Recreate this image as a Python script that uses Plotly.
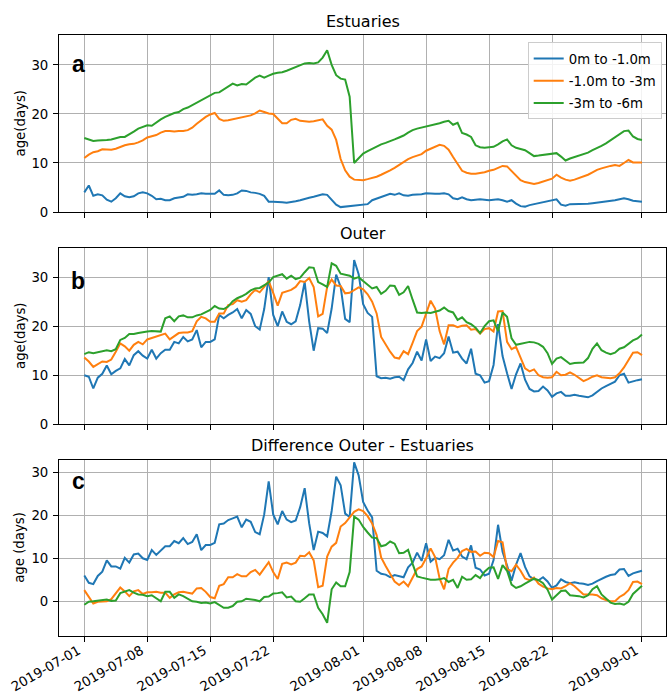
import numpy as np
import pandas as pd
import plotly.graph_objects as go

# Half-day time axis, 2019-07-01 .. 2019-09-01
times = pd.date_range("2019-07-01", "2019-09-01", freq="12h")

layer_names = ["0m to -1.0m", "-1.0m to -3m", "-3m to -6m"]
layer_colors = ["#1f77b4", "#ff7f0e", "#2ca02c"]

tick_dates = ["2019-07-01", "2019-07-08", "2019-07-15", "2019-07-22",
              "2019-08-01", "2019-08-08", "2019-08-15", "2019-08-22", "2019-09-01"]

# Water age (days) in the estuaries
est_0_1 = [4.0, 5.4, 3.3, 3.6, 3.4, 2.5, 2.1, 2.8, 3.8, 3.2,
           3.0, 3.2, 3.8, 4.0, 3.8, 3.3, 2.6, 2.7, 2.4, 2.4,
           2.8, 3.0, 3.1, 3.6, 3.5, 3.6, 3.8, 3.7, 3.7, 3.7,
           4.4, 3.5, 3.4, 3.5, 3.8, 4.4, 4.3, 4.0, 3.9, 3.7,
           3.3, 2.1, 2.1, 2.1, 2.0, 1.9, 2.0, 2.2, 2.4, 2.7,
           2.9, 3.1, 3.4, 3.6, 3.5, 2.6, 1.5, 1.0, 1.1, 1.2,
           1.2, 1.3, 1.4, 1.6, 2.4, 2.7, 3.0, 3.3, 3.7, 3.5,
           3.8, 3.4, 3.3, 3.5, 3.5, 3.6, 3.8, 3.7, 3.7, 3.7,
           3.8, 3.6, 2.8, 2.6, 3.0, 2.6, 2.4, 2.5, 2.6, 2.5,
           2.4, 2.5, 2.6, 2.4, 2.1, 2.4, 1.7, 1.2, 1.1, 1.4,
           1.6, 1.9, 2.1, 2.3, 2.5, 2.6, 1.5, 1.3, 1.6, 1.6,
           1.6, 1.6, 1.7, 1.8, 1.9, 2.0, 2.1, 2.2, 2.4, 2.6,
           2.8, 2.6, 2.3, 2.2, 2.1]
est_1_3 = [11.0, 11.7, 12.2, 12.4, 12.8, 12.7, 12.7, 12.9, 13.3, 13.6,
           13.8, 13.9, 14.2, 14.6, 15.2, 15.5, 15.7, 16.2, 16.5, 16.5,
           16.4, 16.5, 16.5, 16.7, 17.2, 18.0, 18.8, 19.4, 19.9, 20.2,
           19.0, 18.6, 18.7, 18.9, 19.0, 19.2, 19.5, 19.7, 20.1, 20.7,
           20.4, 20.1, 20.0, 19.0, 18.1, 18.1, 18.8, 19.0, 18.6, 18.5,
           18.4, 18.5, 18.7, 18.9, 17.6, 16.8, 14.7, 10.8, 8.5, 7.2,
           6.6, 6.5, 6.5, 6.7, 6.9, 7.2, 7.6, 8.0, 8.5, 9.0,
           9.6, 10.3, 10.8, 11.2, 11.5, 11.8, 12.5, 12.9, 13.3, 13.7,
           13.5, 12.7, 11.2, 9.7, 8.4, 8.0, 7.8, 7.8, 7.9, 8.1,
           8.4, 8.6, 9.0, 9.4, 9.3, 8.3, 7.3, 6.5, 6.1, 5.9,
           5.7, 5.9, 6.2, 6.5, 6.8, 7.6, 7.0, 6.6, 6.4, 6.6,
           6.9, 7.2, 7.6, 8.1, 8.6, 8.9, 9.2, 9.4, 9.6, 9.4,
           10.0, 10.6, 10.1, 10.1, 10.1]
est_3_6 = [15.1, 14.8, 14.5, 14.6, 14.6, 14.7, 14.8, 15.1, 15.3, 15.3,
           15.8, 16.4, 17.0, 17.3, 17.7, 17.6, 18.3, 18.9, 19.4, 19.8,
           20.2, 20.4, 21.0, 21.3, 21.8, 22.3, 22.8, 23.2, 23.8, 24.3,
           24.4, 25.0, 25.5, 26.2, 25.8, 26.1, 26.0, 26.8, 27.4, 27.8,
           27.4, 27.8, 28.2, 28.4, 28.5, 28.8, 29.2, 29.6, 30.0, 30.3,
           30.4, 30.3, 30.5, 31.5, 33.0, 30.0, 27.9, 27.2, 27.0, 23.5,
           10.0, 11.0, 11.9, 12.4, 12.9, 13.3, 13.8, 14.1, 14.4, 14.8,
           15.2, 15.6, 16.2, 16.7, 17.0, 17.2, 17.5, 17.7, 17.9, 18.1,
           18.4, 18.6, 17.8, 18.2, 16.1, 15.8, 15.3, 13.6, 13.2, 13.1,
           13.2, 13.3, 13.8, 14.4, 14.8, 13.6, 13.1, 12.9, 12.6, 12.0,
           11.4, 11.5, 11.6, 11.8, 11.9, 12.0, 11.3, 10.5, 10.9, 11.2,
           11.4, 11.7, 12.1, 12.6, 13.0, 13.5, 14.0, 14.6, 15.2, 15.9,
           16.5, 16.6, 15.4, 14.9, 14.7]

# Water age (days) in the outer area
out_0_1 = [10.0, 9.7, 7.3, 9.5, 10.3, 12.0, 10.2, 10.9, 11.4, 13.3,
           12.0, 14.1, 14.9, 14.0, 13.4, 15.2, 13.4, 14.5, 15.2, 15.2,
           16.8, 16.5, 17.8, 16.9, 17.3, 19.2, 15.7, 16.8, 16.8, 17.3,
           22.3, 21.6, 22.3, 22.8, 23.5, 21.6, 23.3, 22.5, 20.0, 19.3,
           23.5, 30.0, 22.3, 20.0, 23.0, 20.9, 20.4, 21.0, 24.3, 29.0,
           21.0, 15.0, 19.6, 19.5, 18.6, 23.6, 30.5, 28.0, 21.5, 20.8,
           33.5, 30.6, 24.5, 22.7, 21.9, 9.8, 9.4, 9.5, 9.3, 9.6,
           9.7, 9.0, 11.2, 12.5, 14.8, 13.0, 17.3, 12.9, 13.8, 13.5,
           14.5, 17.9, 14.6, 14.8, 13.4, 12.4, 15.4, 10.3, 10.0, 8.5,
           8.8, 12.1, 20.4, 13.9, 10.4, 7.2, 10.2, 12.4, 9.1, 7.2,
           6.7, 6.8, 7.7, 6.9, 5.6, 6.3, 6.6, 5.8, 5.8, 6.0,
           5.8, 5.7, 5.5, 5.9, 6.6, 7.3, 7.8, 8.3, 8.7, 10.0,
           10.3, 8.5, 8.8, 9.0, 9.2]
out_1_3 = [13.6, 12.8, 11.7, 12.3, 12.8, 12.7, 13.2, 14.8, 16.5, 15.9,
           15.0, 16.2, 16.8, 16.3, 17.3, 17.6, 17.9, 18.2, 18.5, 17.3,
           18.0, 18.6, 18.7, 18.7, 19.0, 21.0, 21.9, 21.6, 20.9, 20.9,
           22.6, 22.6, 24.3, 24.5, 25.3, 25.0, 25.3, 26.5, 27.4, 26.9,
           28.0, 29.2, 26.8, 24.2, 26.8, 27.1, 27.4, 28.0, 29.2, 29.0,
           29.8, 28.0, 22.0, 22.5, 28.0, 29.5, 28.3, 28.2, 26.7, 26.8,
           27.4, 27.9, 27.5, 26.5, 25.0, 22.6, 17.8, 16.2, 14.8, 13.6,
           13.4, 14.9, 14.3, 16.6, 19.0, 19.9, 22.5, 25.2, 23.6, 19.0,
           16.3, 20.2, 20.2, 19.8, 20.1, 20.2, 19.3, 19.4, 18.5, 19.4,
           19.6, 18.9, 23.0, 23.1, 16.8, 15.3, 15.8, 13.6, 11.4, 10.8,
           11.2, 10.0, 9.6, 9.5, 9.6, 10.7, 10.0, 10.1, 10.6, 10.1,
           9.5, 8.8, 9.2, 9.7, 10.0, 9.6, 9.5, 9.4, 9.6, 10.4,
           11.6, 13.2, 14.6, 14.7, 14.1]
out_3_6 = [14.3, 14.7, 14.5, 14.7, 14.9, 15.1, 14.9, 15.3, 17.2, 17.6,
           18.4, 18.4, 18.6, 18.8, 18.9, 19.0, 19.0, 18.9, 21.6, 22.0,
           21.0, 22.0, 22.2, 21.8, 21.8, 22.2, 22.4, 22.9, 23.3, 24.1,
           23.6, 23.5, 24.0, 25.1, 25.7, 26.1, 26.6, 27.3, 27.7, 27.8,
           28.4, 28.9, 30.0, 30.3, 30.6, 29.7, 30.3, 29.6, 29.9, 31.0,
           32.0, 31.9, 29.0, 28.5, 28.0, 32.8, 32.3, 30.7, 30.5, 30.3,
           29.7, 30.0, 29.2, 28.4, 27.7, 28.0, 26.6, 27.2, 28.3, 28.2,
           26.4, 26.9, 28.2, 25.4, 22.8, 22.7, 22.8, 22.7, 22.9, 23.2,
           23.8, 23.1, 22.8, 21.3, 21.8, 20.8, 20.4, 19.7, 18.6, 20.0,
           21.0, 21.2, 19.0, 22.8, 21.9, 17.5, 16.2, 16.4, 16.7, 16.8,
           16.7, 16.4, 15.8, 14.5, 12.3, 13.4, 13.7, 13.0, 12.3, 12.5,
           12.6, 12.6, 13.5, 15.4, 16.5, 15.1, 14.6, 14.3, 14.6, 15.4,
           15.7, 16.5, 17.1, 17.5, 18.3]

estuaries = [np.array(est_0_1), np.array(est_1_3), np.array(est_3_6)]
outer = [np.array(out_0_1), np.array(out_1_3), np.array(out_3_6)]
difference = [o - e for o, e in zip(outer, estuaries)]

# ---- page geometry (pixels) ----
W, H = 667, 695
L, R, T, B = 59, 666, 35, 636


def fx(p):
    return (p - L) / (R - L)


def fy(p):
    return (B - p) / (B - T)


panels = [
    dict(series=estuaries, top=35.0, bottom=212.0, yr=[0, 36.1], title="Estuaries",
         ylabel="age(days)", letter="a", box=(68, 50, 103, 80), lpos=(78, 64.5)),
    dict(series=outer, top=247.7, bottom=424.3, yr=[0, 36.0], title="Outer",
         ylabel="age(days)", letter="b", box=(68, 260, 98, 295), lpos=(78, 280.5)),
    dict(series=difference, top=459.7, bottom=636.0, yr=[-8.07, 32.93],
         title="Difference Outer - Estuaries", ylabel="age (days)", letter="c",
         box=(70, 467, 90, 500), lpos=(78, 480.5)),
]

FONT = "DejaVu Sans"
x_range = ["2019-06-28 04:30", "2019-09-03 16:05"]

fig = go.Figure()
annotations = []
shapes = []
layout_axes = {}

for i, p in enumerate(panels, start=1):
    xa = "x" if i == 1 else f"x{i}"
    ya = "y" if i == 1 else f"y{i}"
    for k in range(3):
        fig.add_trace(go.Scatter(
            x=times, y=p["series"][k], mode="lines",
            line=dict(color=layer_colors[k], width=2),
            name=layer_names[k], legendgroup=f"g{k}",
            showlegend=(i == 1), xaxis=xa, yaxis=ya,
        ))
    common = dict(showline=True, mirror=True, linecolor="#000000", linewidth=1,
                  ticks="outside", ticklen=5, tickwidth=1, tickcolor="#000000",
                  showgrid=True, gridcolor="#b0b0b0", gridwidth=1, zeroline=False,
                  automargin=False,
                  tickfont=dict(family=FONT, size=13.3, color="#000000"))
    layout_axes["xaxis" if i == 1 else f"xaxis{i}"] = dict(
        common, type="date", range=x_range, domain=[0, 1],
        anchor=ya, tickvals=tick_dates, ticktext=tick_dates,
        showticklabels=(i == 3), tickangle=-30,
        ticklabelstandoff=-4, ticklabelshift=-6,
    )
    layout_axes["yaxis" if i == 1 else f"yaxis{i}"] = dict(
        common, range=p["yr"], domain=[fy(p["bottom"]), fy(p["top"])],
        anchor=xa, tickvals=[0, 10, 20, 30], ticklabelstandoff=2,
    )
    # subplot title
    annotations.append(dict(
        text=p["title"], xref="paper", yref="paper", x=0.5, y=fy(p["top"] - 14),
        xanchor="center", yanchor="middle", showarrow=False,
        font=dict(family=FONT, size=16, color="#000000"),
    ))
    # y-axis label
    annotations.append(dict(
        text=p["ylabel"], xref="paper", yref="paper", x=fx(20),
        y=fy((p["top"] + p["bottom"]) / 2), xanchor="center", yanchor="middle",
        textangle=-90, showarrow=False,
        font=dict(family=FONT, size=13.3, color="#000000"),
    ))
    # panel letter on a white patch
    x0, y0, x1, y1 = p["box"]
    shapes.append(dict(type="rect", xref="paper", yref="paper",
                       x0=fx(x0), x1=fx(x1), y0=fy(y1), y1=fy(y0),
                       fillcolor="white", line=dict(width=0), layer="between"))
    annotations.append(dict(
        text=f"<b>{p['letter']}</b>", xref="paper", yref="paper",
        x=fx(p["lpos"][0]), y=fy(p["lpos"][1]), xanchor="center", yanchor="middle",
        showarrow=False, font=dict(family="Liberation Sans", size=23, color="#000000"),
    ))

fig.update_layout(
    width=W, height=H,
    margin=dict(l=L, r=W - R, t=T, b=H - B, pad=0, autoexpand=False),
    paper_bgcolor="white", plot_bgcolor="white",
    font=dict(family=FONT, size=13.3, color="#000000"),
    showlegend=True,
    legend=dict(x=fx(661.7), y=fy(42.3), xanchor="right", yanchor="top",
                bgcolor="rgba(255,255,255,0.85)", bordercolor="#cccccc", borderwidth=1,
                font=dict(family=FONT, size=13.3, color="#000000"),
                traceorder="grouped", tracegroupgap=2),
    annotations=annotations,
    shapes=shapes,
    **layout_axes,
)

fig.write_html("out.html")
